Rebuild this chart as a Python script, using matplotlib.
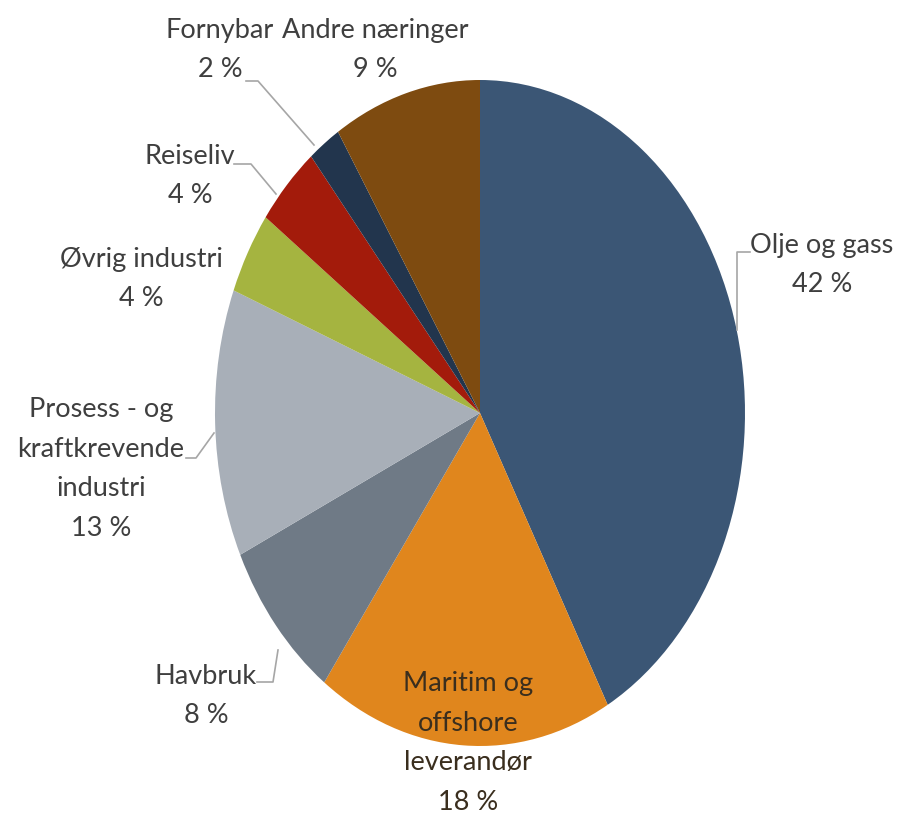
import matplotlib
matplotlib.use("Agg")
import matplotlib.pyplot as plt
from matplotlib.lines import Line2D

# ---- data ----
categories = ["Olje og gass", "Maritim og\noffshore\nleverandør", "Havbruk",
              "Prosess - og\nkraftkrevende\nindustri", "Øvrig industri",
              "Reiseliv", "Fornybar", "Andre næringer"]
values = [42, 18, 8, 13, 4, 4, 2, 9]
colors = ["#3B5675", "#E0861D", "#6F7A86", "#A8AFB8", "#A5B440",
          "#A31B0B", "#22354D", "#7E4B10"]

W, H = 909, 825
fig = plt.figure(figsize=(W / 100, H / 100), dpi=100)
fig.patch.set_facecolor("white")

# pie geometry (pixels)
cx, cy, rx, ry = 480, 413, 265, 333
ax = fig.add_axes([(cx - rx) / W, (H - cy - ry) / H, 2 * rx / W, 2 * ry / H])
ax.pie(values, colors=colors, startangle=90, counterclock=False,
       radius=1, center=(0, 0), wedgeprops=dict(linewidth=0))
ax.set_aspect("auto")
ax.set_xlim(-1, 1)
ax.set_ylim(-1, 1)
ax.axis("off")

# label layout (pixel centers)
label_pos = [(822, 265), (468, 743), (206, 696), (101, 469),
             (141, 279), (190, 176), (220, 50), (375, 50)]
text_colors = ["#3F3F3F", "#3A2E1E", "#3F3F3F", "#3F3F3F",
               "#3F3F3F", "#3F3F3F", "#3F3F3F", "#3F3F3F"]

for cat, val, (px, py), tc in zip(categories, values, label_pos, text_colors):
    fig.text(px / W, 1 - py / H, f"{cat}\n{val} %", ha="center", va="center",
             multialignment="center", fontsize=19.5, family="Lato",
             color=tc, linespacing=1.72)

# leader lines (pixels)
leaders = [
    [(737, 330), (737, 252), (750, 252)],          # Olje og gass
    [(257, 682), (273, 682), (278, 650)],          # Havbruk
    [(186, 458), (196, 458), (214, 433)],          # Prosess
    [(234, 164), (251, 164), (276, 194)],          # Reiseliv
    [(246, 81), (258, 81), (314, 145)],            # Fornybar
]
for pts in leaders:
    xs = [p[0] / W for p in pts]
    ys = [1 - p[1] / H for p in pts]
    fig.add_artist(Line2D(xs, ys, transform=fig.transFigure,
                          color="#A6A6A6", lw=1.2))

fig.savefig("out.png", dpi=100, facecolor="white")
